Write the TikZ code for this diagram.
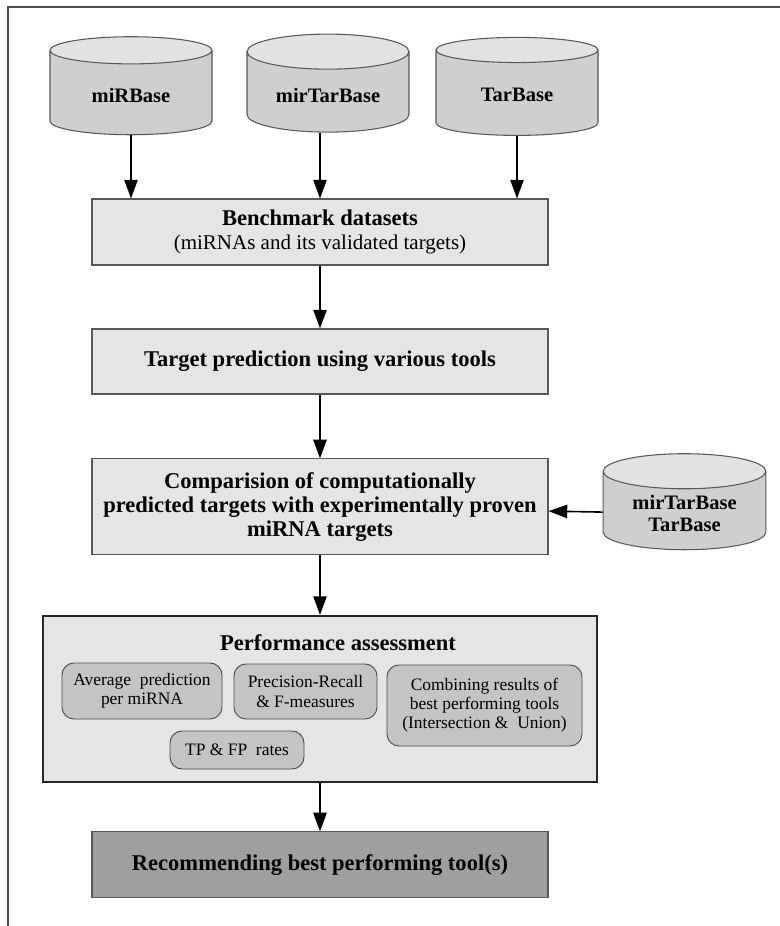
\documentclass[tikz,border=0pt]{standalone}
\usepackage{fontspec}
\setmainfont{Liberation Serif}
\usetikzlibrary{shapes.geometric,arrows.meta,positioning}

\tikzset{
  db/.style={cylinder, shape border rotate=90, aspect=0.31, draw=gray!70!black, line width=0.8pt,
    cylinder uses custom fill, cylinder body fill=gray!38, cylinder end fill=gray!23,
    minimum width=121.5pt, minimum height=73.5pt, align=center,
    font=\fontsize{15.4}{16.5}\selectfont\bfseries},
  box/.style={rectangle, draw=gray!70!black, line width=0.8pt, fill=gray!20,
    minimum width=342pt, align=center, font=\fontsize{16.9}{18}\selectfont\bfseries},
  sub/.style={rectangle, rounded corners=9pt, draw=gray!60!black, line width=0.7pt,
    fill=gray!46, align=center, inner sep=0pt, font=\fontsize{13.1}{14.3}\selectfont},
  flow/.style={-{Triangle[length=14pt,width=10pt]}, line width=1.2pt}
}

\begin{document}
\begin{tikzpicture}[x=0.75pt,y=-0.75pt,on grid]
\useasboundingbox (0,0) rectangle (780,926);
\draw[gray!60!black,line width=1pt] (8,926) -- (8,7) -- (780,7);

% databases
\node[db] (mirbase) at (131,95) {miRBase};
\node[db] (mirtarbase) [right=147.75pt of mirbase] {mirTarBase};
\node[db] (tarbase) [right=141.75pt of mirtarbase] {TarBase};

% main steps
\node[box,minimum height=49.5pt] (bench) at (320,232)
  {Benchmark datasets\\{\mdseries\fontsize{15.75}{17}\selectfont(miRNAs and its validated targets)}};
\node[box,minimum height=48.75pt] (target) [below=97.1pt of bench] {Target prediction using various tools};
\node[box,minimum height=72pt] (compar) [below=109.1pt of target]
  {Comparision of computationally\\predicted targets with experimentally proven\\miRNA targets};
\node[db,minimum width=122pt,minimum height=72pt] (refdb) [right=273.4pt of compar,yshift=-5pt] {mirTarBase\\TarBase};
\node[box,draw=black!85,line width=1.5pt,minimum width=415.5pt,minimum height=124.5pt] (perf) [below=144pt of compar] {};
\node[box,fill=gray!75,minimum height=49.5pt] (rec) [below=124.5pt of perf] {Recommending best performing tool(s)};

% inside the assessment box
\node[font=\fontsize{16.9}{18}\selectfont\bfseries] (perftitle) at (338,643) {Performance assessment};
\node[sub,minimum width=120pt,minimum height=42pt] (avg) at (142,691) {Average\ \ prediction\\per miRNA};
\node[sub,minimum width=107.25pt,minimum height=41.25pt] (prec) at (305.5,691.5) {Precision-Recall\\\& F-measures};
\node[sub,minimum width=146.25pt,minimum height=60.75pt] (comb) at (484.5,705.5)
  {Combining results of\\best performing tools\\(Intersection \&\ \ Union)};
\node[sub,minimum width=100.5pt,minimum height=28.5pt] (tp) at (237,750) {TP \& FP\ \ rates};

\path[flow]
 (mirbase.south) edge (mirbase.south |- bench.north)
 (mirtarbase.south -| bench.north) edge (bench.north)
 (tarbase.south) edge (tarbase.south |- bench.north)
 (bench) edge (target)
 (target) edge (compar)
 (refdb) edge (compar)
 (compar) edge (perf)
 (perf) edge (rec);
\end{tikzpicture}
\end{document}
